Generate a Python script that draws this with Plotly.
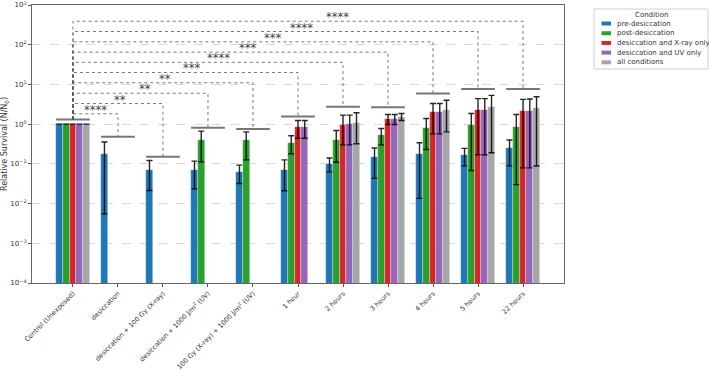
import math
import plotly.graph_objects as go

categories = [
    "Control (Unexposed)", "desiccation", "desiccation + 100 Gy (X-ray)",
    "desiccation + 1000 J/m<sup>2</sup> (UV)", "100 Gy (X-ray) + 1000 J/m<sup>2</sup> (UV)",
    "1 hour", "2 hours", "3 hours", "4 hours", "5 hours", "22 hours",
]
series_names = ["pre-desiccation", "post-desiccation", "desiccation and X-ray only",
                "desiccation and UV only", "all conditions"]
N = None
pre = [1.0, 0.18, 0.072, 0.072, 0.062, 0.072, 0.10, 0.148, 0.18, 0.166, 0.244]
pre_hi = [N, 0.355, 0.122, 0.117, 0.093, 0.126, 0.14, 0.25, 0.34, 0.245, 0.40]
pre_lo = [N, 0.0055, 0.0214, 0.0235, 0.032, 0.021, 0.063, 0.043, 0.0135, 0.089, 0.089]
post = [1.0, N, N, 0.39, 0.39, 0.33, 0.39, 0.53, 0.81, 0.94, 0.87]
post_hi = [N, N, N, 0.667, 0.64, 0.51, 0.69, 0.78, 1.39, 1.86, 1.75]
post_lo = [N, N, N, 0.112, 0.126, 0.18, 0.11, 0.30, 0.23, 0.068, 0.030]
xray = [1.0, N, N, N, N, 0.84, 0.94, 1.31, 2.0, 2.25, 2.12]
xray_hi = [N, N, N, N, N, 1.23, 1.69, 1.75, 3.3, 4.4, 4.2]
xray_lo = [N, N, N, N, N, 0.44, 0.30, 0.98, 0.57, 0.17, 0.079]
uv = [1.0, N, N, N, N, 0.84, 1.0, 1.35, 2.0, 2.25, 2.12]
uv_hi = [N, N, N, N, N, 1.23, 1.69, 1.75, 3.3, 4.4, 4.3]
uv_lo = [N, N, N, N, N, 0.44, 0.30, 0.98, 0.57, 0.17, 0.079]
allc = [1.0, N, N, N, N, N, 1.1, 1.52, 2.25, 2.68, 2.48]
allc_hi = [N, N, N, N, N, N, 1.93, 1.86, 4.0, 5.3, 4.9]
allc_lo = [N, N, N, N, N, N, 0.32, 1.24, 0.64, 0.19, 0.088]

# significance: cap heights per group, comparison levels, stars
cap_levels = [1.31, 0.48, 0.15, 0.81, 0.76, 1.56, 2.73, 2.68, 5.9, 7.7, 7.7]
comp_levels = [1.82, 3.3, 6.0, 11.0, 20.0, 36.0, 65.0, 118.0, 215.0, 390.0]
stars = ["****", "**", "**", "**", "***", "****", "***", "***", "****", "****"]
star_frac = [0.49, 0.52, 0.53, 0.51, 0.53, 0.54, 0.557, 0.555, 0.565, 0.587]

ytick_vals = [1e-4, 1e-3, 1e-2, 1e-1, 1, 10, 100, 1000]
ytick_text = ["10<sup>−4</sup>", "10<sup>−3</sup>", "10<sup>−2</sup>", "10<sup>−1</sup>",
              "10<sup>0</sup>", "10<sup>1</sup>", "10<sup>2</sup>", "10<sup>3</sup>"]

colors = ["#1f77b4", "#2ca02c", "#d62728", "#9467bd", "#a6a6a6"]
BW = 0.15
x = list(range(len(categories)))

# plot area in pixels (for legend placement)
L, R, T, B = 32, 564, 5, 283
def px(xp):
    return (xp - L) / (R - L)
def py(yp):
    return (B - yp) / (B - T)

fig = go.Figure()
all_series = [(pre, pre_hi, pre_lo), (post, post_hi, post_lo), (xray, xray_hi, xray_lo),
              (uv, uv_hi, uv_lo), (allc, allc_hi, allc_lo)]
for i, (vals, hi, lo) in enumerate(all_series):
    plus = [None if (h is None or v is None) else h - v for v, h in zip(vals, hi)]
    minus = [None if (l is None or v is None) else v - l for v, l in zip(vals, lo)]
    fig.add_trace(go.Bar(
        x=x, y=vals, name=series_names[i], width=BW, offset=-2.5 * BW + i * BW,
        marker=dict(color=colors[i], line=dict(width=0.6, color="rgba(255,255,255,0.5)")),
        error_y=dict(type="data", array=plus, arrayminus=minus, symmetric=False,
                     color="rgba(0,0,0,0.85)", thickness=1.4, width=3),
        hoverinfo="skip", showlegend=False,
    ))

line_col = "#777777"
for xi, c in zip(x, cap_levels):
    fig.add_trace(go.Scatter(x=[xi - 0.375, xi + 0.375], y=[c, c], mode="lines",
                             line=dict(color=line_col, width=2), showlegend=False, hoverinfo="skip"))
for k, (lvl, s, fr) in enumerate(zip(comp_levels, stars, star_frac)):
    tx = k + 1
    fig.add_trace(go.Scatter(x=[0, 0, tx, tx], y=[cap_levels[0], lvl, lvl, cap_levels[tx]],
                             mode="lines", line=dict(color="#555555", width=0.8, dash="dot"),
                             showlegend=False, hoverinfo="skip"))
    fig.add_annotation(x=tx * fr, y=math.log10(lvl), text=s, showarrow=False,
                       yanchor="bottom", yshift=-5,
                       font=dict(family="DejaVu Sans", size=11.5, color="#444444"))

# custom compact legend (matplotlib style)
fig.add_shape(type="rect", xref="paper", yref="paper",
              x0=px(594), x1=px(708), y0=py(69), y1=py(9),
              line=dict(color="#d0d0d0", width=1), fillcolor="white", layer="above")
fig.add_annotation(xref="paper", yref="paper", x=px(651.5), y=py(14.5), text="Condition",
                   showarrow=False, xanchor="center", yanchor="middle",
                   font=dict(family="DejaVu Sans", size=7, color="#333333"))
for i, name in enumerate(series_names):
    yc = 23.5 + i * 9.7
    fig.add_shape(type="rect", xref="paper", yref="paper",
                  x0=px(601.5), x1=px(611), y0=py(yc + 2), y1=py(yc - 2),
                  line=dict(width=0), fillcolor=colors[i], layer="above")
    fig.add_annotation(xref="paper", yref="paper", x=px(614.5), y=py(yc), text=name,
                       showarrow=False, xanchor="left", yanchor="middle",
                       font=dict(family="DejaVu Sans", size=7, color="#333333"))

fig.update_layout(
    width=709, height=370,
    margin=dict(l=L, r=709 - R, t=T, b=370 - B, autoexpand=False),
    paper_bgcolor="white", plot_bgcolor="white",
    barmode="overlay", bargap=0,
    font=dict(family="DejaVu Sans", size=7, color="#333333"),
    showlegend=False,
)
fig.update_xaxes(
    range=[-0.91, 10.91], tickvals=x, ticktext=categories, tickangle=-45,
    ticks="outside", ticklen=3, tickcolor="#555555", automargin=False,
    ticklabeloverflow="allow",
    showline=True, linecolor="#666666", linewidth=1.2, mirror=True,
    showgrid=False, zeroline=False, tickfont=dict(size=6.6, color="#333333"),
)
fig.update_yaxes(
    type="log", range=[-4, 3], tickvals=ytick_vals, ticktext=ytick_text,
    ticks="outside", ticklen=3, tickcolor="#555555", automargin=False,
    ticklabeloverflow="allow",
    showline=True, linecolor="#666666", linewidth=1.2, mirror=True,
    showgrid=True, gridcolor="#d9d9d9", griddash="dash", gridwidth=0.7,
    title=dict(text="Relative Survival (N/N<sub>0</sub>)", font=dict(size=8), standoff=4),
    tickfont=dict(size=7, color="#333333"),
)

fig.write_html("out.html", config={"displayModeBar": False})
